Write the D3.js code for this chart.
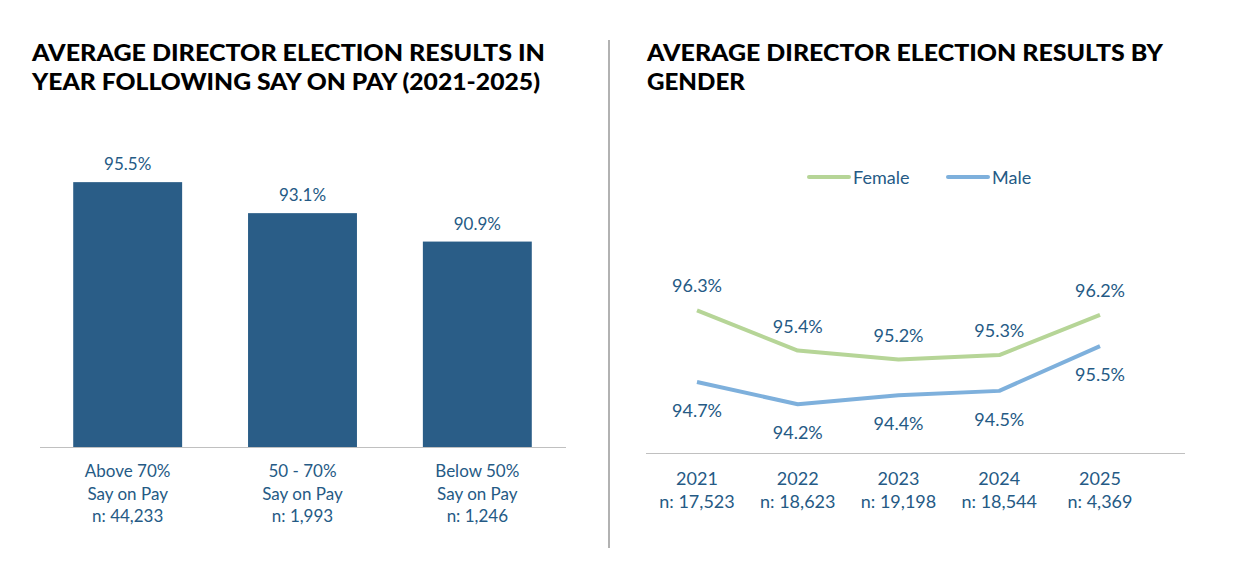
<!DOCTYPE html>
<html>
<head>
<meta charset="utf-8">
<script src="https://cdn.jsdelivr.net/npm/d3@7"></script>
<style>
  body { margin: 0; background: #fff; }
  svg text { font-family: Lato, "Open Sans", sans-serif; }
  .title { font-weight: 900; fill: #000; font-size: 22px; }
  .lbl { fill: #255a85; font-size: 17px; }
  .lbl2 { fill: #255a85; font-size: 18px; }
</style>
</head>
<body>
<svg id="chart" width="1240" height="564"></svg>
<script>
// left chart data
var sopCategories = ["Above 70%", "50 - 70%", "Below 50%"]
var sopCounts = ["44,233", "1,993", "1,246"]
var sopValues = [95.5, 93.1, 90.9]

// right chart data
var years = ["2021", "2022", "2023", "2024", "2025"]
var yearCounts = ["17,523", "18,623", "19,198", "18,544", "4,369"]
var femaleValues = [96.3, 95.4, 95.2, 95.3, 96.2]
var maleValues = [94.7, 94.2, 94.4, 94.5, 95.5]

var barColor = "#2a5d87"
var femaleColor = "#b6d597"
var maleColor = "#7eb0dc"

var svg = d3.select("#chart")

function title(lines, x, widths){
	lines.forEach(function(t, i){
		svg.append("text")
			.attr("class", "title")
			.attr("x", x)
			.attr("y", 61 + i * 29)
			.attr("textLength", widths[i])
			.attr("lengthAdjust", "spacingAndGlyphs")
			.text(t)
	})
}

title(["AVERAGE DIRECTOR ELECTION RESULTS IN", "YEAR FOLLOWING SAY ON PAY (2021-2025)"], 32, [513, 508])
title(["AVERAGE DIRECTOR ELECTION RESULTS BY", "GENDER"], 647, [516, 98])

// divider
svg.append("line")
	.attr("x1", 609).attr("x2", 609)
	.attr("y1", 40).attr("y2", 548)
	.attr("stroke", "#7f7f7f").attr("stroke-width", 1.2)

// ---- bar chart ----
var xBar = d3.scaleBand()
	.domain(sopCategories)
	.range([40, 565])
	.paddingInner(0.377)
	.paddingOuter(0.19)

var yBar = d3.scaleLinear()
	.domain([75, 100])
	.range([447, 124])

svg.selectAll(".bar")
	.data(sopValues)
	.enter()
	.append("rect")
	.attr("class", "bar")
	.attr("x", function(d, i){ return xBar(sopCategories[i]) })
	.attr("width", xBar.bandwidth())
	.attr("y", function(d){ return yBar(d) })
	.attr("height", function(d){ return yBar(75) - yBar(d) })
	.attr("fill", barColor)

svg.selectAll(".barval")
	.data(sopValues)
	.enter()
	.append("text")
	.attr("class", "lbl barval")
	.attr("text-anchor", "middle")
	.attr("x", function(d, i){ return xBar(sopCategories[i]) + xBar.bandwidth() / 2 })
	.attr("y", function(d){ return yBar(d) - 12 })
	.text(function(d){ return d.toFixed(1) + "%" })

svg.append("line")
	.attr("x1", 40).attr("x2", 566)
	.attr("y1", 447.5).attr("y2", 447.5)
	.attr("stroke", "#c0c0c0").attr("stroke-width", 1.2)

sopCategories.forEach(function(c, i){
	var cx = xBar(c) + xBar.bandwidth() / 2
	var t = svg.append("text")
		.attr("class", "lbl")
		.attr("text-anchor", "middle")
		.attr("x", cx)
		.attr("y", 477)
	;[c, "Say on Pay", "n: " + sopCounts[i]].forEach(function(s, j){
		t.append("tspan").attr("x", cx).attr("dy", j ? 22.5 : 0).text(s)
	})
})

// ---- line chart ----
var xLine = d3.scalePoint()
	.domain(years)
	.range([697, 1100])

var yLine = d3.scaleLinear()
	.domain([93, 97])
	.range([458, 279])

var line = d3.line()
	.x(function(d, i){ return xLine(years[i]) })
	.y(function(d){ return yLine(d) })

var series = [
	{ name: "Female", values: femaleValues, color: femaleColor, dy: -18 },
	{ name: "Male", values: maleValues, color: maleColor, dy: 35 }
]

series.forEach(function(s){
	svg.append("path")
		.datum(s.values)
		.attr("d", line)
		.attr("fill", "none")
		.attr("stroke", s.color)
		.attr("stroke-width", 4)
		.attr("stroke-linejoin", "round")

	svg.selectAll(".pt-" + s.name)
		.data(s.values)
		.enter()
		.append("text")
		.attr("class", "lbl2")
		.attr("text-anchor", "middle")
		.attr("x", function(d, i){ return xLine(years[i]) })
		.attr("y", function(d){ return yLine(d) + s.dy })
		.text(function(d){ return d.toFixed(1) + "%" })
})

svg.append("line")
	.attr("x1", 646).attr("x2", 1185)
	.attr("y1", 453.5).attr("y2", 453.5)
	.attr("stroke", "#c0c0c0").attr("stroke-width", 1.2)

years.forEach(function(y, i){
	var cx = xLine(y)
	var t = svg.append("text")
		.attr("class", "lbl2")
		.attr("text-anchor", "middle")
		.attr("x", cx)
		.attr("y", 485)
	t.append("tspan").attr("x", cx).attr("dy", 0).text(y)
	t.append("tspan").attr("x", cx).attr("dy", 23).text("n: " + yearCounts[i])
})

// legend
var legend = svg.append("g")
var legendX = [809, 948]
series.forEach(function(s, i){
	legend.append("line")
		.attr("x1", legendX[i]).attr("x2", legendX[i] + 40)
		.attr("y1", 177).attr("y2", 177)
		.attr("stroke", s.color).attr("stroke-width", 4)
		.attr("stroke-linecap", "round")
	legend.append("text")
		.attr("class", "lbl2")
		.attr("x", legendX[i] + 44)
		.attr("y", 184)
		.text(s.name)
})
</script>
</body>
</html>
